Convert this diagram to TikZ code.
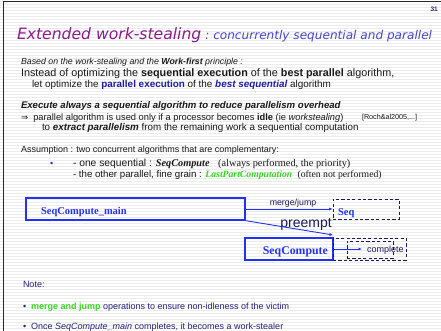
\documentclass[tikz,border=0pt]{standalone}
\usepackage{fontspec}
\setmainfont{Liberation Sans}
\newfontfamily\tnr{Liberation Serif}
\newfontfamily\djv{DejaVu Sans}
\usetikzlibrary{arrows.meta}
\definecolor{titlepurple}{RGB}{140,26,140}
\definecolor{subblue}{RGB}{72,72,200}
\definecolor{numnavy}{RGB}{40,40,110}
\definecolor{bodyblk}{RGB}{25,25,25}
\definecolor{boldblue}{RGB}{30,30,160}
\definecolor{diagblue}{RGB}{35,50,240}
\definecolor{dashnavy}{RGB}{25,25,90}
\definecolor{notenavy}{RGB}{35,35,120}
\definecolor{brightgreen}{RGB}{55,215,35}
\definecolor{stripe}{RGB}{236,236,236}
\definecolor{frame}{RGB}{40,40,40}
\tikzset{
  txt/.style={anchor=base west, inner sep=0pt, outer sep=0pt, text=bodyblk},
  solidbox/.style={draw=diagblue, line width=1.3pt, inner sep=0pt, minimum width=#1},
  dashbox/.style={draw=dashnavy, line width=0.9pt, dash pattern=on 3.2pt off 2.2pt, inner sep=0pt},
  tip/.style={-{Latex[length=3.5pt,width=3pt]}}
}
\begin{document}
\begin{tikzpicture}[x=1pt,y=-1pt]
\useasboundingbox (0,0) rectangle (441,331);
\fill[white] (0,0) rectangle (441,331);
\foreach \yy in {1.5,4.5,...,331} {\draw[stripe, line width=1pt] (0,\yy) -- (441,\yy);}
\draw[frame, line width=1.2pt] (3.5,331) -- (3.5,1.5) -- (441,1.5);

% page number
\node[anchor=base east, inner sep=0pt, text=numnavy, font=\bfseries\fontsize{6.5}{7}\selectfont] (num) at (438,12) {31};

% title
\node[txt, text=titlepurple, font=\djv\itshape\fontsize{15.6}{17}\selectfont] (title) at (17,40) {Extended work-stealing};
\node[anchor=base west, inner sep=0pt, text=subblue, font=\djv\itshape\fontsize{12.1}{14}\selectfont] (subtitle) at (title.base east) {\ :\ concurrently sequential and parallel};

% body
\node[txt, font=\itshape\fontsize{8.8}{10}\selectfont] (l1) at (21,65) {Based on the work-stealing and the \textbf{Work-first} principle :};
\node[txt, font=\fontsize{10.8}{12}\selectfont] (l2) at (21,77) {Instead of optimizing the \textbf{sequential execution} of the \textbf{best parallel} algorithm,};
\node[txt, font=\fontsize{9.9}{11}\selectfont] (l3) at (32,88) {let optimize the \textbf{\color{boldblue}parallel execution} of the \textbf{\itshape\color{boldblue}best sequential} algorithm};
\node[txt, font=\bfseries\itshape\fontsize{9.6}{11}\selectfont] (l4) at (21,109) {Execute always a sequential algorithm to reduce parallelism overhead};
\node[txt, font=\fontsize{9.3}{11}\selectfont] (l5) at (21,121) {{\djv\fontsize{8.5}{10}\selectfont ⇒}\ \ parallel algorithm is used only if a processor becomes \textbf{idle} (ie \textit{workstealing})};
\node[txt, font=\fontsize{7.2}{8}\selectfont] (ref) at (362,120) {[Roch\&al2005,...]};
\node[txt, font=\fontsize{9.8}{11}\selectfont] (l6) at (42,131) {to \textbf{\itshape extract parallelism} from the remaining work a sequential computation};
\node[txt, font=\fontsize{9}{10}\selectfont] (l7) at (21,153) {Assumption : two concurrent algorithms that are complementary:};
\node[txt, text=diagblue, font=\fontsize{9}{10}\selectfont] (bul) at (50,166) {•};
\node[txt, font=\fontsize{10.3}{11}\selectfont] (l8) at (73,166) {- one sequential : {\tnr\bfseries\itshape SeqCompute}\ \ \ {\tnr (always performed, the priority)}};
\node[txt, font=\fontsize{9.7}{11}\selectfont] (l9) at (73,178) {- the other parallel, fine grain : {\tnr\bfseries\itshape\color{brightgreen}LastPartComputation}\ \ {\tnr (often not performed)}};

% diagram
\node[solidbox=219pt, minimum height=22pt] (main) at (135.5,209) {};
\node[txt, text=diagblue, font=\tnr\bfseries\fontsize{10.5}{12}\selectfont] (mainlbl) at (41,214) {SeqCompute\_main};
\node[dashbox, minimum width=66pt, minimum height=20pt] (seq) at (366,209) {};
\node[txt, text=diagblue, font=\tnr\bfseries\fontsize{10.5}{12}\selectfont] (seqlbl) at (338,215) {Seq};
\draw[diagblue, line width=0.9pt, tip] (main.east) -- (seq.west);
\node[anchor=base, inner sep=0pt, text=dashnavy, font=\fontsize{8.8}{10}\selectfont] (mj) at (293,205) {merge/jump};
\node[anchor=base, inner sep=0pt, text=dashnavy, font=\fontsize{14}{16}\selectfont] (pre) at (306,227) {preempt};

\node[solidbox=88pt, minimum height=22pt] (sc) at (289,249) {};
\node[anchor=base east, inner sep=0pt, text=diagblue, font=\tnr\bfseries\fontsize{11.8}{13}\selectfont] (sclbl) at (328,254) {SeqCompute};
\node[dashbox, minimum width=73pt, minimum height=22pt] (outer) at (369.5,249) {};
\node[dashbox, minimum width=46pt, minimum height=17pt] (inner) at (370,249.5) {};
\coordinate (pe) at (333,235);
\coordinate (ce) at (362,249);
\draw[diagblue, line width=0.9pt, tip] (main.south east) -- (pe);
\draw[diagblue, line width=0.9pt, tip] (sc.east) -- (ce);
\node[txt, text=dashnavy, font=\fontsize{9}{10}\selectfont] (comp) at (367,252) {complete};

% note
\node[txt, text=notenavy, font=\fontsize{9}{10}\selectfont] (note) at (23,287) {Note:};
\node[txt, text=notenavy, font=\fontsize{9}{10}\selectfont] (n1) at (23,309) {•\ \ {\color{brightgreen}\bfseries merge and jump} operations to ensure non-idleness of the victim};
\node[txt, text=notenavy, font=\fontsize{9}{10}\selectfont] (n2) at (23,329.5) {•\ \ Once \textit{SeqCompute\_main} completes, it becomes a work-stealer};
\end{tikzpicture}
\end{document}
